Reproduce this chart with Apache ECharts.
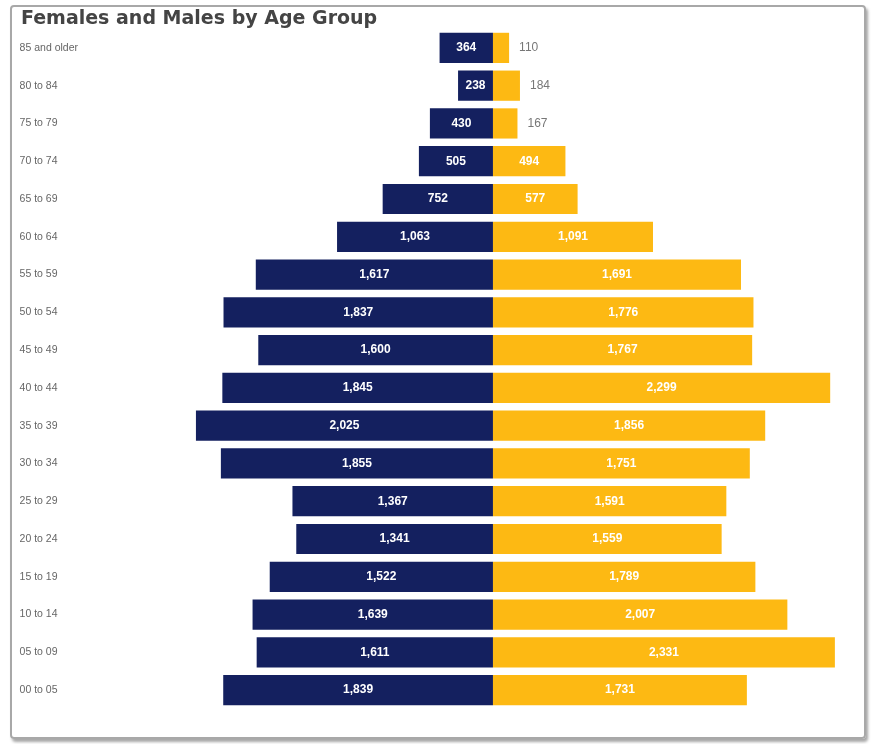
<!DOCTYPE html>
<html>
<head>
<meta charset="utf-8">
<script src="https://cdn.jsdelivr.net/npm/echarts@6/dist/echarts.min.js"></script>
<style>
    html, body { margin: 0; padding: 0; background: #fff; }
    #frame {
        position: absolute; left: 10px; top: 5px; width: 852px; height: 730px;
        border: 2px solid #a8a8a8; border-radius: 4px;
        box-shadow: 2px 3px 3px rgba(0, 0, 0, 0.35);
    }
    #main { position: absolute; left: 0; top: 0; width: 872px; height: 744px; }
</style>
</head>
<body>
<div id="frame"></div>
<div id="main"></div>
<script>
// 年龄组 (从老到小)
const ageGroups = ['85 and older', '80 to 84', '75 to 79', '70 to 74', '65 to 69', '60 to 64',
    '55 to 59', '50 to 54', '45 to 49', '40 to 44', '35 to 39', '30 to 34', '25 to 29',
    '20 to 24', '15 to 19', '10 to 14', '05 to 09', '00 to 05'];
const females = [364, 238, 430, 505, 752, 1063, 1617, 1837, 1600, 1845, 2025, 1855, 1367, 1341, 1522, 1639, 1611, 1839];
const males = [110, 184, 167, 494, 577, 1091, 1691, 1776, 1767, 2299, 1856, 1751, 1591, 1559, 1789, 2007, 2331, 1731];

const fmt = (v) => Math.abs(v).toLocaleString('en-US');

let myChart = echarts.init(document.getElementById('main'));
myChart.setOption({
    animation: false,
    title: {
        text: 'Females and Males by Age Group',
        left: 16,
        top: 5,
        textStyle: {
            color: '#444',
            fontSize: 19,
            fontWeight: 'bold',
            fontFamily: 'DejaVu Sans'
        }
    },
    grid: {
        left: 111.6,
        right: 27,
        top: 29,
        bottom: 35
    },
    xAxis: {
        type: 'value',
        min: -2600,
        max: 2400,
        show: false
    },
    yAxis: {
        type: 'category',
        inverse: true,
        data: ageGroups,
        axisLine: { show: false, onZero: false },
        axisTick: { show: false },
        splitLine: { show: false },
        axisLabel: {
            align: 'left',
            margin: 92,
            color: '#666',
            fontSize: 10.5,
            fontFamily: 'Liberation Sans'
        }
    },
    series: [
        {
            name: 'Females',
            type: 'bar',
            stack: 'total',
            barCategoryGap: '20%',
            itemStyle: { color: '#14205f' },
            label: {
                show: true,
                position: 'inside',
                color: '#fff',
                fontSize: 12,
                fontWeight: 'bold',
                fontFamily: 'Liberation Sans',
                formatter: (p) => fmt(p.value)
            },
            data: females.map((v) => -v)
        },
        {
            name: 'Males',
            type: 'bar',
            stack: 'total',
            barCategoryGap: '20%',
            itemStyle: { color: '#fdb913' },
            label: {
                show: true,
                position: 'inside',
                color: '#fff',
                fontSize: 12,
                fontWeight: 'bold',
                fontFamily: 'Liberation Sans',
                formatter: (p) => fmt(p.value)
            },
            data: males.map((v) => v < 200
                ? { value: v, label: { position: 'right', color: '#777', fontWeight: 'normal', distance: 10 } }
                : v)
        }
    ]
});
</script>
</body>
</html>
